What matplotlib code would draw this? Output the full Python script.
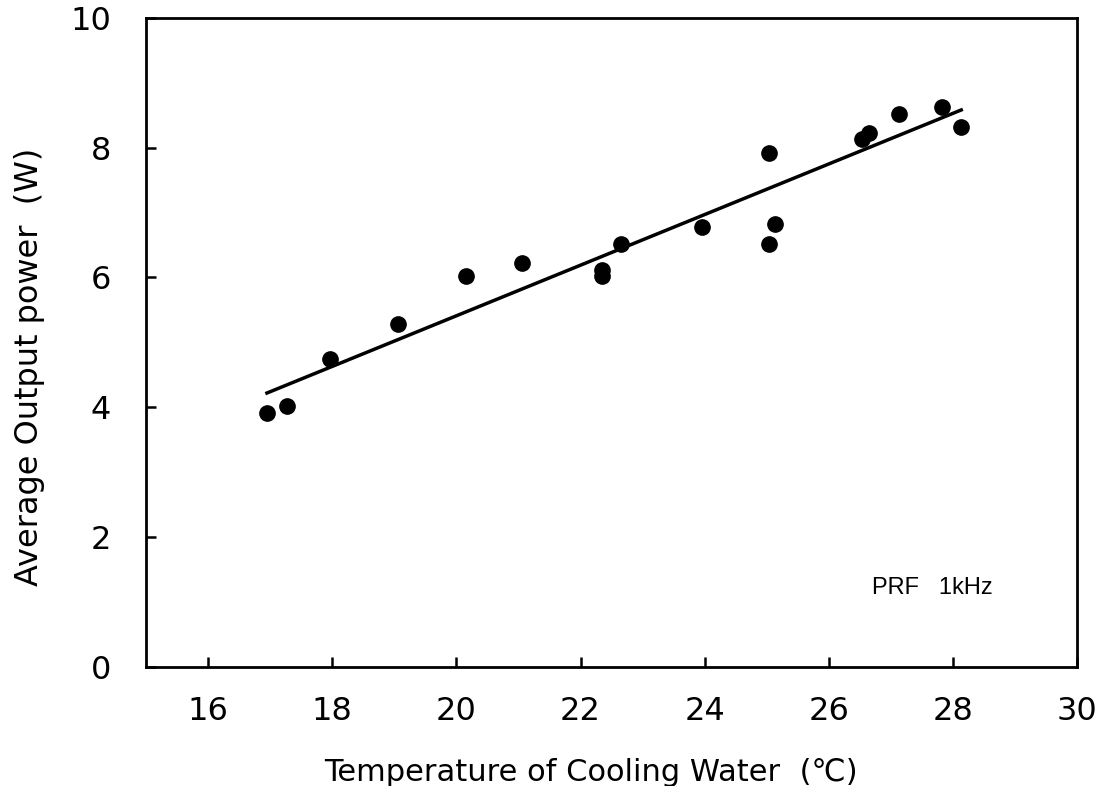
import numpy as np
import matplotlib
matplotlib.use("Agg")
import matplotlib.pyplot as plt

# measured points
temp = [16.95, 17.27, 17.97, 19.06, 20.15, 21.05, 22.34, 22.34, 22.65,
        23.95, 25.03, 25.03, 25.13, 26.53, 26.65, 27.13, 27.82, 28.13]
power = [3.91, 4.02, 4.75, 5.28, 6.02, 6.22, 6.12, 6.02, 6.52,
         6.77, 7.92, 6.52, 6.82, 8.14, 8.23, 8.52, 8.63, 8.32]

# fitted line endpoints
fit_x = [16.95, 28.13]
fit_y = [4.22, 8.58]

xticks = [16, 18, 20, 22, 24, 26, 28, 30]
yticks = [0, 2, 4, 6, 8, 10]

plt.rcParams['font.family'] = ['DejaVu Sans']

fig = plt.figure(figsize=(11.05, 7.86), dpi=100)
ax = fig.add_axes([0.132, 0.1514, 0.843, 0.826])

ax.plot(fit_x, fit_y, color='black', lw=2.5)
ax.plot(temp, power, 'o', color='black', ms=11)

ax.set_xlim(15, 30)
ax.set_ylim(0, 10)
ax.set_xticks(xticks)
ax.set_yticks(yticks)
ax.tick_params(direction='in', length=7, width=1.8, labelsize=23)
ax.tick_params(axis='x', pad=21)
ax.tick_params(axis='y', pad=25)
for s in ax.spines.values():
    s.set_linewidth(2)

ax.set_xlabel("Temperature of Cooling Water  (\u2103)", fontsize=22)
ax.set_ylabel("Average Output power  (W)", fontsize=23)
ax.xaxis.set_label_coords(0.478, -0.140)
ax.yaxis.set_label_coords(-0.108, 0.462)

ax.text(26.70, 1.12, "PRF   1kHz", fontsize=17, family='Liberation Sans', va='baseline')

fig.savefig("out.png", dpi=100)
